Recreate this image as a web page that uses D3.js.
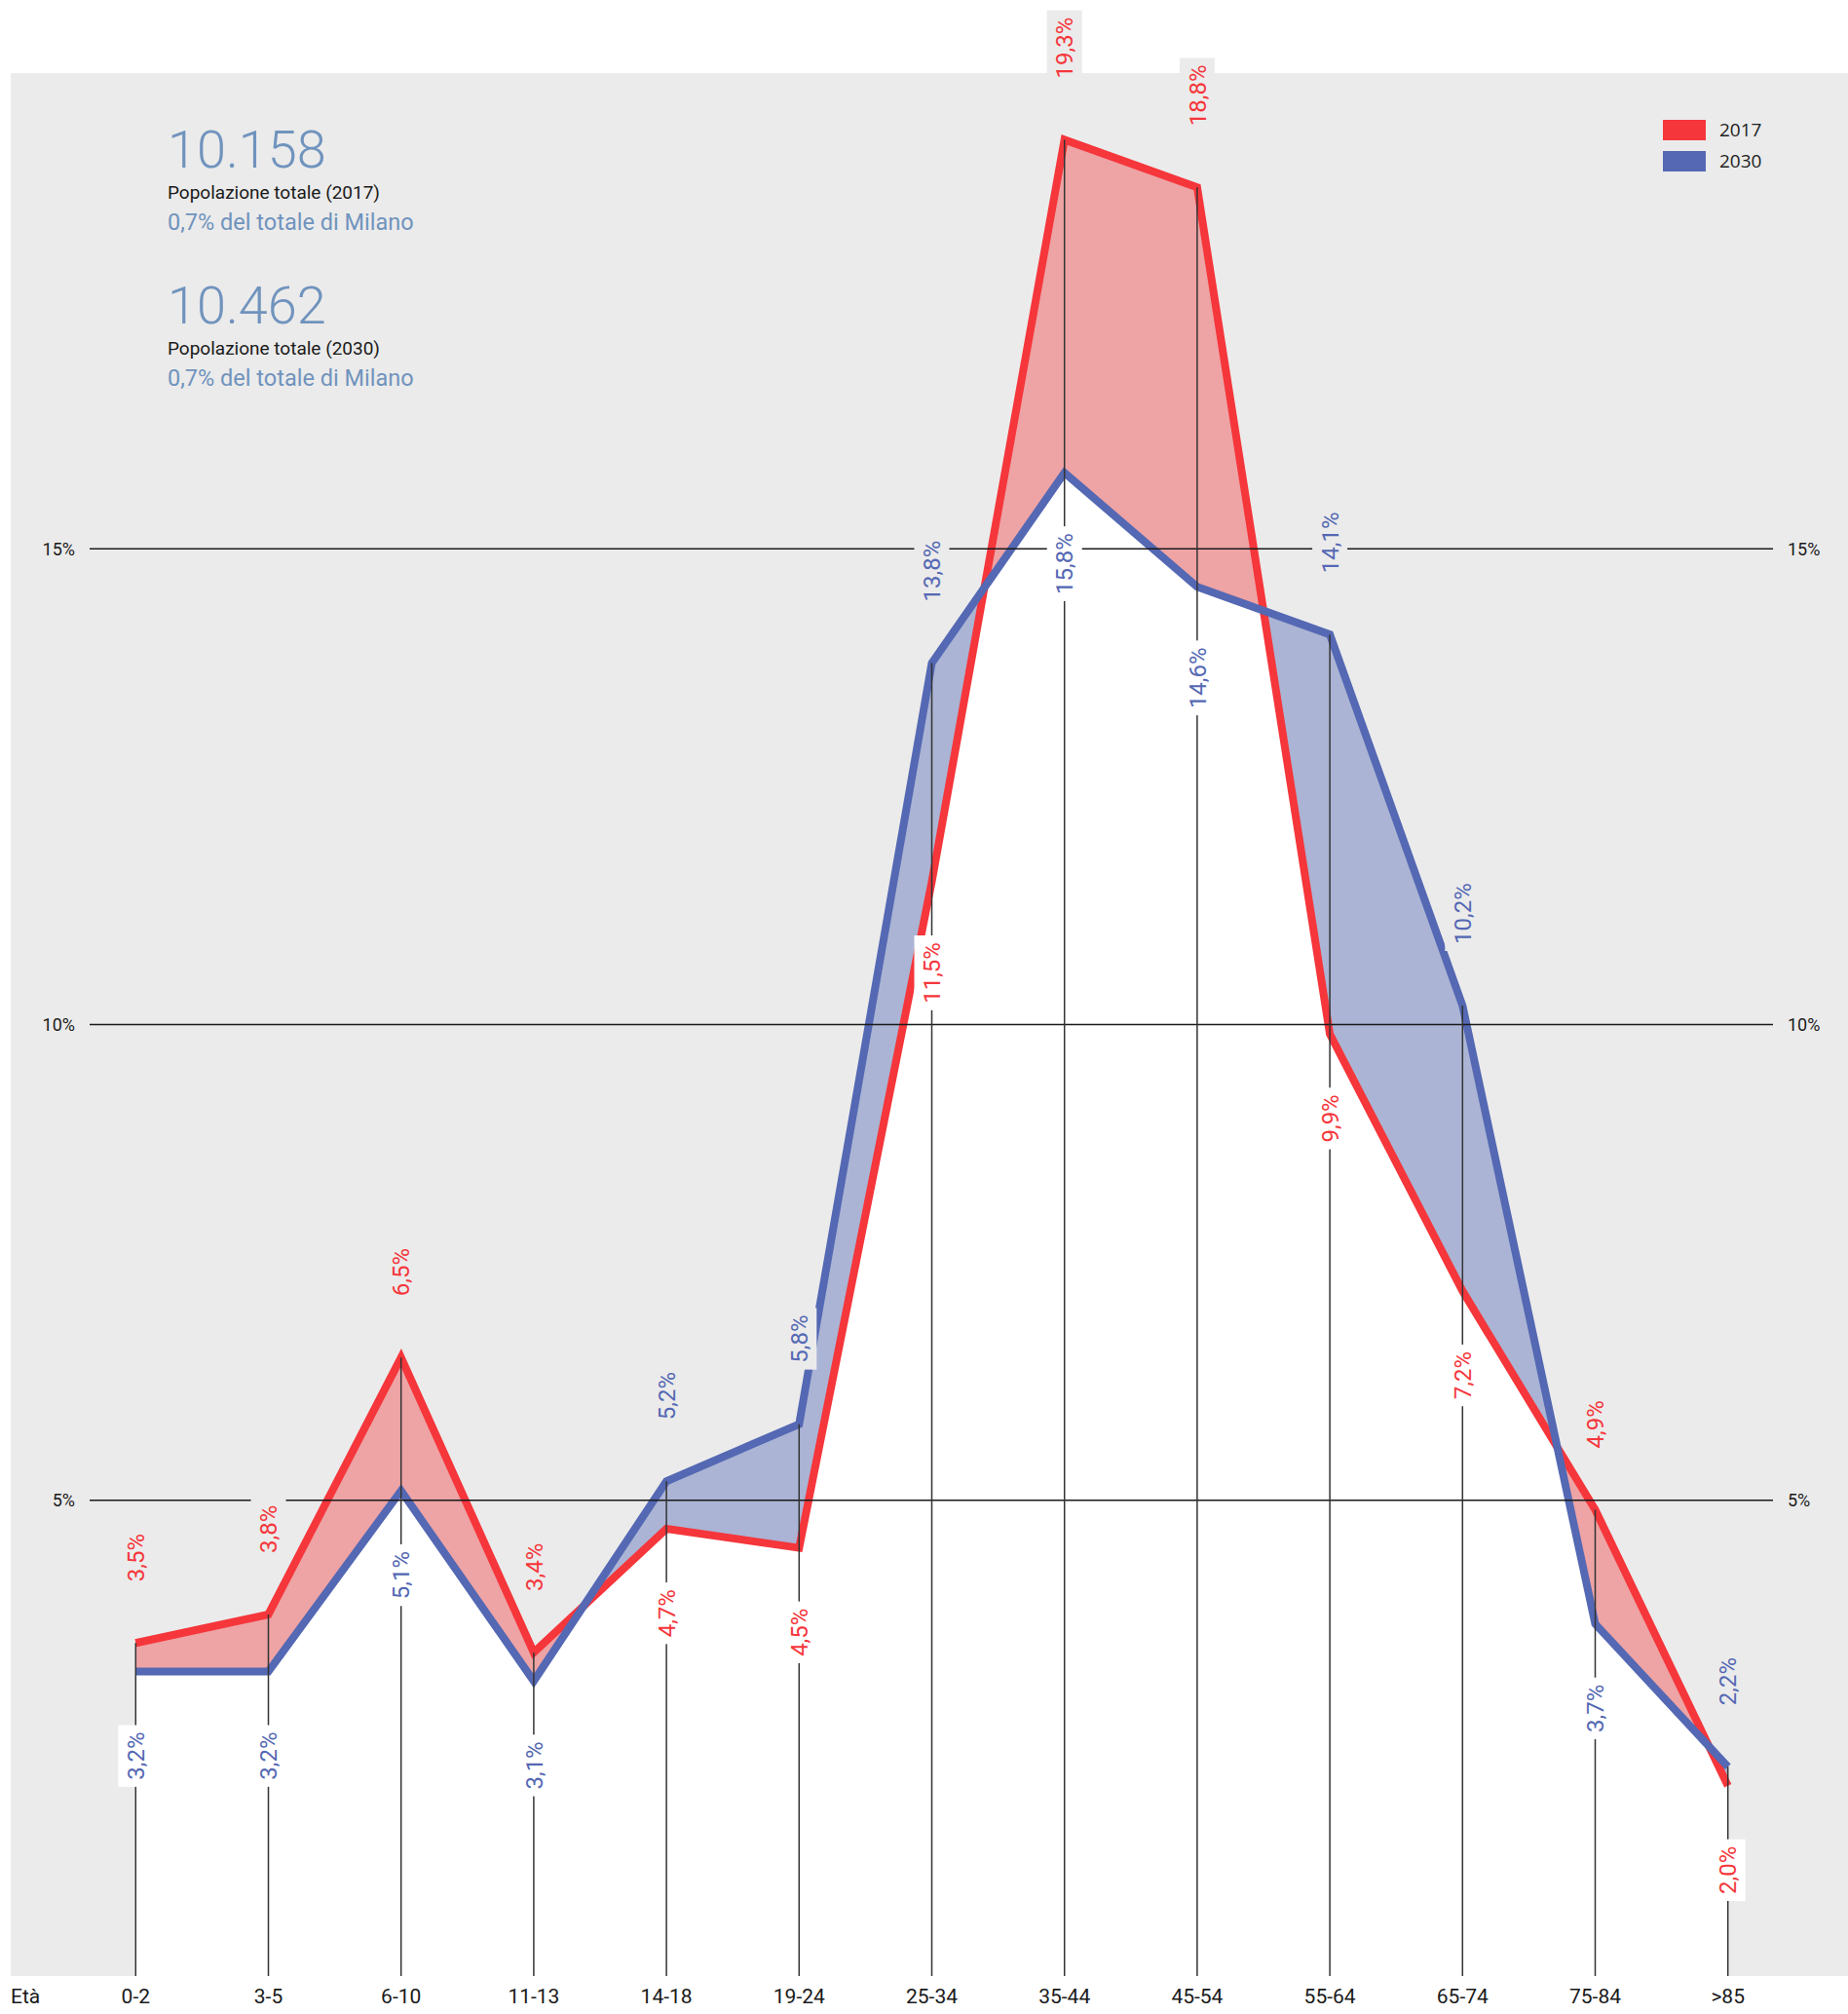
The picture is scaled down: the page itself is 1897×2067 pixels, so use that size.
<!DOCTYPE html>
<html>
<head>
<meta charset="utf-8">
<script src="https://cdn.jsdelivr.net/npm/d3@7"></script>
<style>
    body { margin: 0; background: #fff; }
    svg { display: block; font-family: Roboto, "Noto Sans", sans-serif; }
</style>
</head>
<body>
<svg id="chart" width="1897" height="2067"></svg>
<script>
/*globals d3*/

// fasce d'eta'
var categories = ["0-2", "3-5", "6-10", "11-13", "14-18", "19-24", "25-34",
    "35-44", "45-54", "55-64", "65-74", "75-84", ">85"];

// quota % per fascia
var values2017 = [3.5, 3.8, 6.5, 3.4, 4.7, 4.5, 11.5, 19.3, 18.8, 9.9, 7.2, 4.9, 2.0];
var values2030 = [3.2, 3.2, 5.1, 3.1, 5.2, 5.8, 13.8, 15.8, 14.6, 14.1, 10.2, 3.7, 2.2];

var yTicks = [5, 10, 15];
var seriesNames = ["2017", "2030"];

var totals = ["10.158", "10.462"];
var totalCaptions = ["Popolazione totale (2017)", "Popolazione totale (2030)"];
var shareCaptions = ["0,7% del totale di Milano", "0,7% del totale di Milano"];

var RED = "#f5363b", BLUE = "#5468b3";
var PINK = "#eea3a5", LAVENDER = "#abb4d4";
var GREY = "#ebebeb", STEEL = "#7093bd";

var svg = d3.select("#chart");

// pannello grigio
var panel = {left: 11, right: 1897, top: 75, bottom: 2028};
svg.append("rect")
    .attr("x", panel.left).attr("y", panel.top)
    .attr("width", panel.right - panel.left)
    .attr("height", panel.bottom - panel.top)
    .attr("fill", GREY);

var x = d3.scalePoint().domain(categories).range([139.3, 1773.7]);
var y = d3.scaleLinear().domain([0, 15]).range([2028, 563.3]);

var data = categories.map(function (c, i) {
    return {cat: c, a: values2017[i], b: values2030[i]};
});

var underA = d3.area().x(function (d) { return x(d.cat); })
    .y0(y(0)).y1(function (d) { return y(d.a); });
var underB = d3.area().x(function (d) { return x(d.cat); })
    .y0(y(0)).y1(function (d) { return y(d.b); });

var defs = svg.append("defs");
defs.append("clipPath").attr("id", "clipA")
    .append("path").attr("d", underA(data));

// rosa sotto il 2017, lilla sotto il 2030, bianco sotto entrambe
svg.append("path").attr("d", underA(data)).attr("fill", PINK);
svg.append("path").attr("d", underB(data)).attr("fill", LAVENDER);
svg.append("path").attr("d", underB(data)).attr("fill", "#fff")
    .attr("clip-path", "url(#clipA)");

var lineA = d3.line().x(function (d) { return x(d.cat); }).y(function (d) { return y(d.a); });
var lineB = d3.line().x(function (d) { return x(d.cat); }).y(function (d) { return y(d.b); });

svg.append("path").attr("d", lineA(data)).attr("fill", "none")
    .attr("stroke", RED).attr("stroke-width", 8).attr("stroke-linejoin", "miter");
svg.append("path").attr("d", lineB(data)).attr("fill", "none")
    .attr("stroke", BLUE).attr("stroke-width", 8).attr("stroke-linejoin", "miter");

// griglia orizzontale
var grid = svg.append("g");
yTicks.forEach(function (t) {
    grid.append("line")
        .attr("x1", 92).attr("x2", 1820)
        .attr("y1", y(t)).attr("y2", y(t))
        .attr("stroke", "#1a1a1a").attr("stroke-width", 1.5);
    grid.append("text").attr("x", 77).attr("y", y(t)).attr("dy", "0.35em")
        .attr("text-anchor", "end").attr("font-size", 18).attr("fill", "#1a1a1a")
        .text(t + "%");
    grid.append("text").attr("x", 1835).attr("y", y(t)).attr("dy", "0.35em")
        .attr("text-anchor", "start").attr("font-size", 18).attr("fill", "#1a1a1a")
        .text(t + "%");
});

// linee verticali dal punto piu' alto fino in fondo
svg.append("g").selectAll("line").data(data).enter().append("line")
    .attr("x1", function (d) { return x(d.cat); })
    .attr("x2", function (d) { return x(d.cat); })
    .attr("y1", function (d) { return y(Math.max(d.a, d.b)); })
    .attr("y2", y(0))
    .attr("stroke", "#333").attr("stroke-width", 1.5);

function fmt(v) {
    return d3.format(".1f")(v).replace(".", ",") + "%";
}

// etichette ruotate con riquadro di sfondo
var labels = svg.append("g");
function addLabel(cx, cy, value, color, above) {
    var g = labels.append("g").attr("transform", "translate(" + cx + "," + cy + ") rotate(-90)");
    var box = g.append("rect").attr("fill", above ? GREY : "#fff");
    var t = g.append("text").attr("dy", "0.36em")
        .attr("text-anchor", above ? "start" : "end")
        .attr("font-size", 24).attr("fill", color)
        .text(fmt(value));
    var len = t.node().getComputedTextLength();
    var pad = 7;
    box.attr("x", above ? -pad : -len - pad)
        .attr("y", -18).attr("width", len + 2 * pad).attr("height", 36);
}

data.forEach(function (d) {
    var cx = x(d.cat);
    var redUp = d.a >= d.b;
    addLabel(cx, redUp ? y(d.a) - 63 : y(d.a) + 62, d.a, RED, redUp);
    addLabel(cx, redUp ? y(d.b) + 62 : y(d.b) - 63, d.b, BLUE, !redUp);
});

// asse x
var axis = svg.append("g").attr("font-size", 21).attr("fill", "#1a1a1a");
axis.append("text").attr("x", 11).attr("y", 2056).text("Età");
axis.selectAll("text.cat").data(categories).enter().append("text")
    .attr("class", "cat")
    .attr("x", function (c) { return x(c); }).attr("y", 2056)
    .attr("text-anchor", "middle")
    .text(function (c) { return c; });

// legenda
var legend = svg.append("g").attr("font-family", "'Open Sans', sans-serif");
[RED, BLUE].forEach(function (col, i) {
    legend.append("rect").attr("x", 1707).attr("y", 123 + i * 32)
        .attr("width", 44).attr("height", 21).attr("fill", col);
    legend.append("text").attr("x", 1765).attr("y", 140 + i * 32)
        .attr("font-size", 19).attr("fill", "#222").text(seriesNames[i]);
});

// totali in alto a sinistra
var info = svg.append("g");
totals.forEach(function (t, i) {
    var base = i * 160;
    info.append("text").attr("x", 172).attr("y", 172 + base)
        .attr("font-size", 54).attr("font-weight", 300).attr("fill", STEEL).text(t);
    info.append("text").attr("x", 172).attr("y", 204 + base)
        .attr("font-size", 19).attr("fill", "#1a1a1a").text(totalCaptions[i]);
    info.append("text").attr("x", 172).attr("y", 236 + base)
        .attr("font-size", 23.5).attr("fill", STEEL).text(shareCaptions[i]);
});
</script>
</body>
</html>
